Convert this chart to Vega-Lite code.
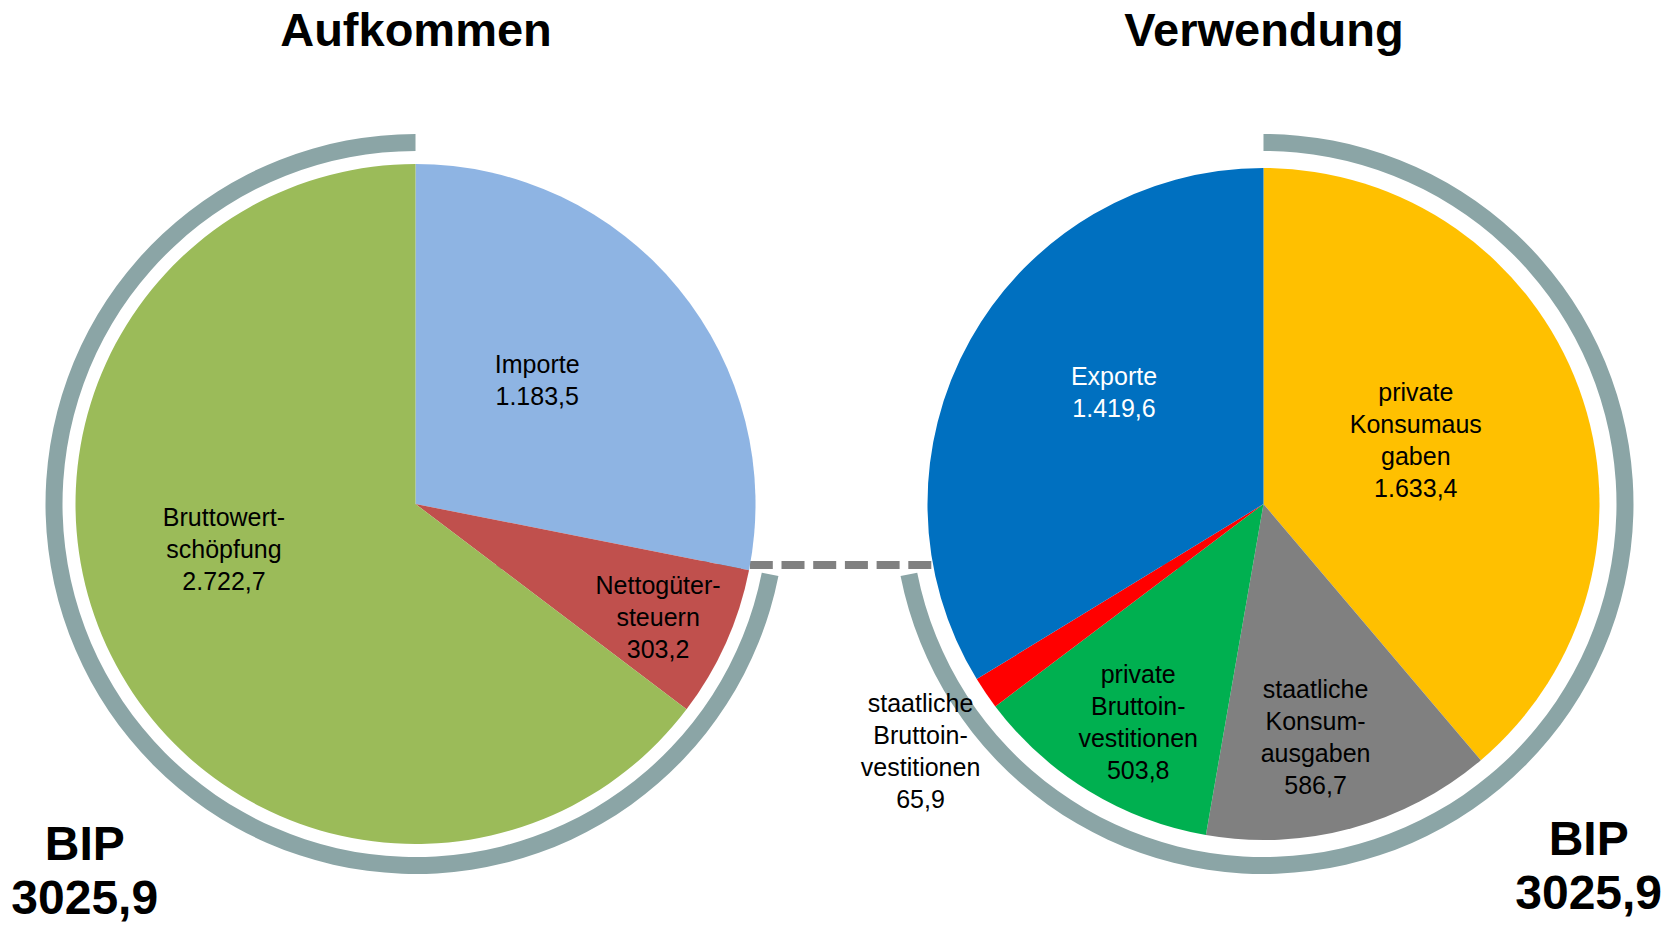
{
  "$schema": "https://vega.github.io/schema/vega-lite/v6.json",
  "width": 1679,
  "height": 840,
  "autosize": "none",
  "padding": {"top": 84, "left": 0, "right": 0, "bottom": 2},
  "background": "white",
  "config": {"view": {"stroke": null}, "text": {"font": "Liberation Sans"}},
  "datasets": {
    "slices": [
      {"side": "Aufkommen", "name": "Importe", "value": 1183.5, "rank": 1, "label": "Importe\n1.183,5"},
      {"side": "Aufkommen", "name": "Nettogütersteuern", "value": 303.2, "rank": 2, "label": "Nettogüter-\nsteuern\n303,2"},
      {"side": "Aufkommen", "name": "Bruttowertschöpfung", "value": 2722.7, "rank": 3, "label": "Bruttowert-\nschöpfung\n2.722,7"},
      {"side": "Verwendung", "name": "private Konsumausgaben", "value": 1633.4, "rank": 1, "label": "private\nKonsumaus\ngaben\n1.633,4"},
      {"side": "Verwendung", "name": "staatliche Konsumausgaben", "value": 586.7, "rank": 2, "label": "staatliche\nKonsum-\nausgaben\n586,7"},
      {"side": "Verwendung", "name": "private Bruttoinvestitionen", "value": 503.8, "rank": 3, "label": "private\nBruttoin-\nvestitionen\n503,8"},
      {"side": "Verwendung", "name": "staatliche Bruttoinvestitionen", "value": 65.9, "rank": 4, "label": "staatliche\nBruttoin-\nvestitionen\n65,9"},
      {"side": "Verwendung", "name": "Exporte", "value": 1419.6, "rank": 5, "label": "Exporte\n1.419,6"}
    ],
    "rings": [
      {"side": "Aufkommen", "part": "Importe", "value": 1183.5, "rank": 1, "label": ""},
      {"side": "Aufkommen", "part": "BIP", "value": 3025.9, "rank": 2, "label": "BIP\n3025,9"},
      {"side": "Verwendung", "part": "BIP", "value": 3025.9, "rank": 1, "label": "BIP\n3025,9"},
      {"side": "Verwendung", "part": "Importe", "value": 1183.5, "rank": 2, "label": ""}
    ],
    "link": [{"from": "Aufkommen", "to": "Verwendung"}]
  },
  "encoding": {
    "x": {
      "field": "side", "type": "nominal",
      "scale": {"type": "point", "domain": ["Aufkommen", "Verwendung"], "padding": 0.49},
      "axis": {"orient": "top", "title": null, "domain": false, "ticks": false, "tickSize": 0, "grid": false, "labelFont": "Liberation Sans", "labelFontSize": 47, "labelFontWeight": "bold", "labelColor": "#000000", "labelPadding": 39, "labelBaseline": "alphabetic", "labelAngle": 0, "labelLimit": 0}
    }
  },
  "layer": [
    {
      "data": {"name": "link"},
      "mark": {"type": "rule", "color": "#808080", "strokeWidth": 8, "strokeDash": [23, 8.7], "strokeDashOffset": 14.4, "yOffset": 61},
      "encoding": {
        "x": {"field": "from", "type": "nominal", "scale": {"type": "point", "domain": ["Aufkommen", "Verwendung"], "padding": 0.49}, "axis": {"orient": "top", "title": null, "domain": false, "ticks": false, "tickSize": 0, "grid": false, "labelFont": "Liberation Sans", "labelFontSize": 47, "labelFontWeight": "bold", "labelColor": "#000000", "labelPadding": 39, "labelBaseline": "alphabetic", "labelAngle": 0, "labelLimit": 0}},
        "x2": {"field": "to"}
      }
    },
    {
      "data": {"name": "rings"},
      "transform": [{"filter": "datum.side === 'Aufkommen'"}],
      "mark": {"type": "arc", "innerRadius": 353, "outerRadius": 370, "color": "#8BA5A6"},
      "encoding": {
        "theta": {"field": "value", "type": "quantitative", "stack": true},
        "order": {"field": "rank"},
        "opacity": {"condition": {"test": "datum.part === 'BIP'", "value": 1}, "value": 0}
      }
    },
    {
      "data": {"name": "rings"},
      "transform": [{"filter": "datum.side === 'Verwendung'"}],
      "mark": {"type": "arc", "innerRadius": 353, "outerRadius": 370, "color": "#8BA5A6"},
      "encoding": {
        "theta": {"field": "value", "type": "quantitative", "stack": true},
        "order": {"field": "rank"},
        "opacity": {"condition": {"test": "datum.part === 'BIP'", "value": 1}, "value": 0}
      }
    },
    {
      "data": {"name": "slices"},
      "transform": [{"filter": "datum.side === 'Aufkommen'"}],
      "mark": {"type": "arc", "outerRadius": 340},
      "encoding": {
        "theta": {"field": "value", "type": "quantitative", "stack": true},
        "order": {"field": "rank"},
        "color": {"field": "name", "type": "nominal", "legend": null,
          "scale": {"domain": ["Importe", "Nettogütersteuern", "Bruttowertschöpfung", "private Konsumausgaben", "staatliche Konsumausgaben", "private Bruttoinvestitionen", "staatliche Bruttoinvestitionen", "Exporte"],
                    "range": ["#8EB4E3", "#C0504D", "#9BBB59", "#FFC000", "#808080", "#00B050", "#FF0000", "#0070C0"]}}
      }
    },
    {
      "data": {"name": "slices"},
      "transform": [{"filter": "datum.side === 'Verwendung'"}],
      "mark": {"type": "arc", "outerRadius": 336},
      "encoding": {
        "theta": {"field": "value", "type": "quantitative", "stack": true},
        "order": {"field": "rank"},
        "color": {"field": "name", "type": "nominal", "legend": null,
          "scale": {"domain": ["Importe", "Nettogütersteuern", "Bruttowertschöpfung", "private Konsumausgaben", "staatliche Konsumausgaben", "private Bruttoinvestitionen", "staatliche Bruttoinvestitionen", "Exporte"],
                    "range": ["#8EB4E3", "#C0504D", "#9BBB59", "#FFC000", "#808080", "#00B050", "#FF0000", "#0070C0"]}}
      }
    },
    {
      "data": {"name": "slices"},
      "transform": [{"filter": "datum.side === 'Aufkommen'"}],
      "mark": {"type": "text", "radius": 173, "thetaOffset": -0.103, "dy": -16, "fontSize": 25, "lineHeight": 32, "lineBreak": "\n", "align": "center", "baseline": "middle", "color": "#000000"},
      "encoding": {
        "theta": {"field": "value", "type": "quantitative", "stack": true},
        "order": {"field": "rank"},
        "text": {"condition": {"test": "datum.name === 'Importe'", "field": "label"}, "value": ""}
      }
    },
    {
      "data": {"name": "slices"},
      "transform": [{"filter": "datum.side === 'Aufkommen'"}],
      "mark": {"type": "text", "radius": 268, "thetaOffset": 0.017, "dy": -32, "fontSize": 25, "lineHeight": 32, "lineBreak": "\n", "align": "center", "baseline": "middle", "color": "#000000"},
      "encoding": {
        "theta": {"field": "value", "type": "quantitative", "stack": true},
        "order": {"field": "rank"},
        "text": {"condition": {"test": "datum.name === 'Nettogütersteuern'", "field": "label"}, "value": ""}
      }
    },
    {
      "data": {"name": "slices"},
      "transform": [{"filter": "datum.side === 'Aufkommen'"}],
      "mark": {"type": "text", "radius": 197, "thetaOffset": 0.225, "dy": -32, "fontSize": 25, "lineHeight": 32, "lineBreak": "\n", "align": "center", "baseline": "middle", "color": "#000000"},
      "encoding": {
        "theta": {"field": "value", "type": "quantitative", "stack": true},
        "order": {"field": "rank"},
        "text": {"condition": {"test": "datum.name === 'Bruttowertschöpfung'", "field": "label"}, "value": ""}
      }
    },
    {
      "data": {"name": "slices"},
      "transform": [{"filter": "datum.side === 'Verwendung'"}],
      "mark": {"type": "text", "radius": 165, "thetaOffset": -0.043, "dy": -48, "fontSize": 25, "lineHeight": 32, "lineBreak": "\n", "align": "center", "baseline": "middle", "color": "#000000"},
      "encoding": {
        "theta": {"field": "value", "type": "quantitative", "stack": true},
        "order": {"field": "rank"},
        "text": {"condition": {"test": "datum.name === 'private Konsumausgaben'", "field": "label"}, "value": ""}
      }
    },
    {
      "data": {"name": "slices"},
      "transform": [{"filter": "datum.side === 'Verwendung'"}],
      "mark": {"type": "text", "radius": 240, "thetaOffset": 0.047, "dy": -48, "fontSize": 25, "lineHeight": 32, "lineBreak": "\n", "align": "center", "baseline": "middle", "color": "#000000"},
      "encoding": {
        "theta": {"field": "value", "type": "quantitative", "stack": true},
        "order": {"field": "rank"},
        "text": {"condition": {"test": "datum.name === 'staatliche Konsumausgaben'", "field": "label"}, "value": ""}
      }
    },
    {
      "data": {"name": "slices"},
      "transform": [{"filter": "datum.side === 'Verwendung'"}],
      "mark": {"type": "text", "radius": 252, "thetaOffset": -0.028, "dy": -48, "fontSize": 25, "lineHeight": 32, "lineBreak": "\n", "align": "center", "baseline": "middle", "color": "#000000"},
      "encoding": {
        "theta": {"field": "value", "type": "quantitative", "stack": true},
        "order": {"field": "rank"},
        "text": {"condition": {"test": "datum.name === 'private Bruttoinvestitionen'", "field": "label"}, "value": ""}
      }
    },
    {
      "data": {"name": "slices"},
      "transform": [{"filter": "datum.side === 'Verwendung'"}],
      "mark": {"type": "text", "radius": 423, "thetaOffset": -0.028, "dy": -48, "fontSize": 25, "lineHeight": 32, "lineBreak": "\n", "align": "center", "baseline": "middle", "color": "#000000"},
      "encoding": {
        "theta": {"field": "value", "type": "quantitative", "stack": true},
        "order": {"field": "rank"},
        "text": {"condition": {"test": "datum.name === 'staatliche Bruttoinvestitionen'", "field": "label"}, "value": ""}
      }
    },
    {
      "data": {"name": "slices"},
      "transform": [{"filter": "datum.side === 'Verwendung'"}],
      "mark": {"type": "text", "radius": 186, "thetaOffset": 0.126, "dy": -16, "fontSize": 25, "lineHeight": 32, "lineBreak": "\n", "align": "center", "baseline": "middle", "color": "#FFFFFF"},
      "encoding": {
        "theta": {"field": "value", "type": "quantitative", "stack": true},
        "order": {"field": "rank"},
        "text": {"condition": {"test": "datum.name === 'Exporte'", "field": "label"}, "value": ""}
      }
    },
    {
      "data": {"name": "rings"},
      "transform": [{"filter": "datum.side === 'Aufkommen'"}],
      "mark": {"type": "text", "radius": 497, "thetaOffset": -0.155, "dy": -29, "fontSize": 48, "fontWeight": "bold", "lineHeight": 54, "lineBreak": "\n", "align": "center", "baseline": "middle", "color": "#000000"},
      "encoding": {
        "theta": {"field": "value", "type": "quantitative", "stack": true},
        "order": {"field": "rank"},
        "text": {"field": "label"}
      }
    },
    {
      "data": {"name": "rings"},
      "transform": [{"filter": "datum.side === 'Verwendung'"}],
      "mark": {"type": "text", "radius": 488, "thetaOffset": 0.154, "dy": -27, "fontSize": 48, "fontWeight": "bold", "lineHeight": 54, "lineBreak": "\n", "align": "center", "baseline": "middle", "color": "#000000"},
      "encoding": {
        "theta": {"field": "value", "type": "quantitative", "stack": true},
        "order": {"field": "rank"},
        "text": {"field": "label"}
      }
    }
  ]
}
